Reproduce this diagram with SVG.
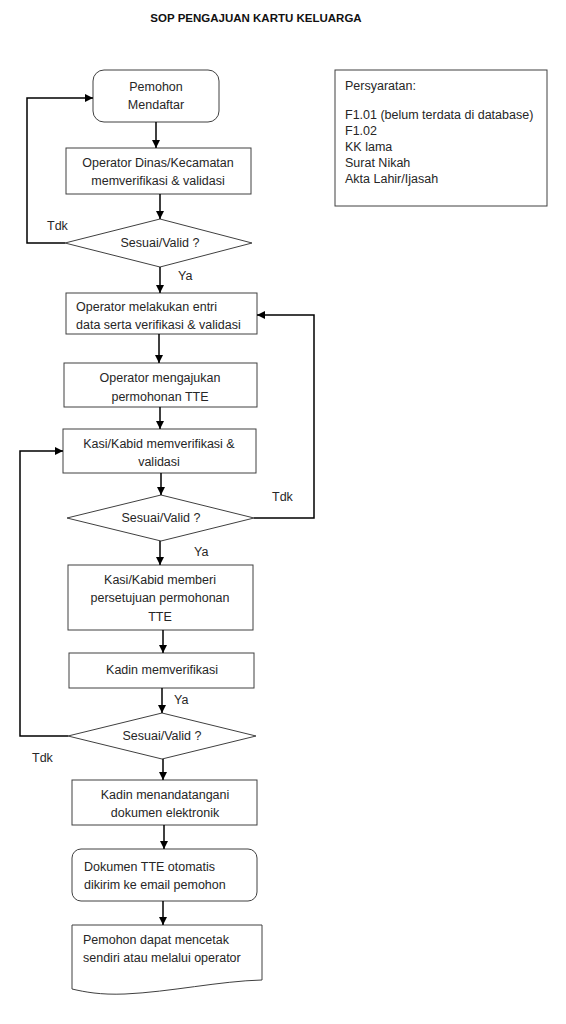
<svg xmlns="http://www.w3.org/2000/svg" width="566" height="1024" viewBox="0 0 566 1024">
<style>
.n{fill:#fff;stroke:#404040;stroke-width:1}
.t{font-family:"Liberation Sans",Arial,sans-serif;font-size:12.5px;fill:#262626}
.c{text-anchor:middle}
.e{fill:none;stroke:#000;stroke-width:1.5}
.title{font-family:"Liberation Sans",Arial,sans-serif;font-size:11.5px;font-weight:bold;fill:#111;text-anchor:middle}
</style>
<defs>
<marker id="ah" viewBox="0 0 10 10" refX="10" refY="5" markerWidth="8" markerHeight="8" markerUnits="userSpaceOnUse" orient="auto">
<path d="M0,0 L10,5 L0,10 z" fill="#000"/>
</marker>
</defs>
<rect width="566" height="1024" fill="#fff"/>
<text class="title" x="256" y="22">SOP PENGAJUAN KARTU KELUARGA</text>

<g id="persyaratan">
<rect class="n" x="335" y="70" width="212" height="136"/>
<text class="t" x="345" y="90">Persyaratan:</text>
<text class="t" x="345" y="119">F1.01 (belum terdata di database)</text>
<text class="t" x="345" y="135">F1.02</text>
<text class="t" x="345" y="151">KK lama</text>
<text class="t" x="345" y="167">Surat Nikah</text>
<text class="t" x="345" y="183">Akta Lahir/Ijasah</text>
</g>

<g id="n1">
<rect class="n" x="93" y="70" width="126" height="52" rx="11"/>
<text class="t c" x="156" y="91">Pemohon</text>
<text class="t c" x="156" y="109">Mendaftar</text>
</g>
<g id="n2">
<rect class="n" x="66" y="148" width="185" height="46"/>
<text class="t c" x="158" y="167">Operator Dinas/Kecamatan</text>
<text class="t c" x="158" y="185">memverifikasi &amp; validasi</text>
</g>
<g id="d1">
<polygon class="n" points="160,219 252,243 160,267 65,243"/>
<text class="t c" x="160" y="247">Sesuai/Valid ?</text>
</g>
<g id="n3">
<rect class="n" x="66" y="293" width="191" height="41"/>
<text class="t" x="76" y="311">Operator melakukan entri</text>
<text class="t" x="76" y="329">data serta verifikasi &amp; validasi</text>
</g>
<g id="n4">
<rect class="n" x="64" y="363" width="193" height="44"/>
<text class="t c" x="160" y="382">Operator mengajukan</text>
<text class="t c" x="160" y="401">permohonan TTE</text>
</g>
<g id="n5">
<rect class="n" x="63" y="429" width="193" height="44"/>
<text class="t c" x="159" y="448">Kasi/Kabid memverifikasi &amp;</text>
<text class="t c" x="159" y="466">validasi</text>
</g>
<g id="d2">
<polygon class="n" points="161,495 254,518 161,541 67,518"/>
<text class="t c" x="161" y="522">Sesuai/Valid ?</text>
</g>
<g id="n6">
<rect class="n" x="68" y="565" width="185" height="65"/>
<text class="t c" x="160" y="584">Kasi/Kabid memberi</text>
<text class="t c" x="160" y="602">persetujuan permohonan</text>
<text class="t c" x="160" y="621">TTE</text>
</g>
<g id="n7">
<rect class="n" x="69" y="653" width="185" height="35"/>
<text class="t c" x="162" y="674">Kadin memverifikasi</text>
</g>
<g id="d3">
<polygon class="n" points="162,713 256,736 162,759 68,736"/>
<text class="t c" x="162" y="740">Sesuai/Valid ?</text>
</g>
<g id="n8">
<rect class="n" x="72" y="780" width="185" height="45"/>
<text class="t c" x="165" y="799">Kadin menandatangani</text>
<text class="t c" x="165" y="817">dokumen elektronik</text>
</g>
<g id="n9">
<rect class="n" x="72" y="849" width="185" height="52" rx="9"/>
<text class="t" x="84" y="871">Dokumen TTE otomatis</text>
<text class="t" x="84" y="889">dikirim ke email pemohon</text>
</g>
<g id="n10">
<path class="n" d="M72,925 L262,925 L262,980 C220,981 170,992 125,994 C100,995 85,992 72,989 Z"/>
<text class="t" x="83" y="944">Pemohon dapat mencetak</text>
<text class="t" x="83" y="962">sendiri atau melalui operator</text>
</g>

<g id="connectors">
<line class="e" x1="156" y1="122" x2="156" y2="148" marker-end="url(#ah)"/>
<line class="e" x1="160" y1="194" x2="160" y2="219" marker-end="url(#ah)"/>
<polyline class="e" points="65,243 27,243 27,98 93,98" marker-end="url(#ah)"/>
<line class="e" x1="160" y1="267" x2="160" y2="293" marker-end="url(#ah)"/>
<line class="e" x1="159" y1="334" x2="159" y2="363" marker-end="url(#ah)"/>
<line class="e" x1="160" y1="407" x2="160" y2="429" marker-end="url(#ah)"/>
<line class="e" x1="161" y1="473" x2="161" y2="495" marker-end="url(#ah)"/>
<polyline class="e" points="254,518 314,518 314,315 257,315" marker-end="url(#ah)"/>
<line class="e" x1="160" y1="541" x2="160" y2="565" marker-end="url(#ah)"/>
<line class="e" x1="163" y1="630" x2="163" y2="653" marker-end="url(#ah)"/>
<line class="e" x1="162" y1="688" x2="162" y2="713" marker-end="url(#ah)"/>
<polyline class="e" points="68,736 20,736 20,451 63,451" marker-end="url(#ah)"/>
<line class="e" x1="163" y1="759" x2="163" y2="780" marker-end="url(#ah)"/>
<line class="e" x1="164" y1="825" x2="164" y2="849" marker-end="url(#ah)"/>
<line class="e" x1="163" y1="901" x2="163" y2="925" marker-end="url(#ah)"/>
<text class="t" x="47" y="230">Tdk</text>
<text class="t" x="178" y="280">Ya</text>
<text class="t" x="272" y="501">Tdk</text>
<text class="t" x="194" y="556">Ya</text>
<text class="t" x="174" y="704">Ya</text>
<text class="t" x="32" y="762">Tdk</text>
</g>
</svg>
